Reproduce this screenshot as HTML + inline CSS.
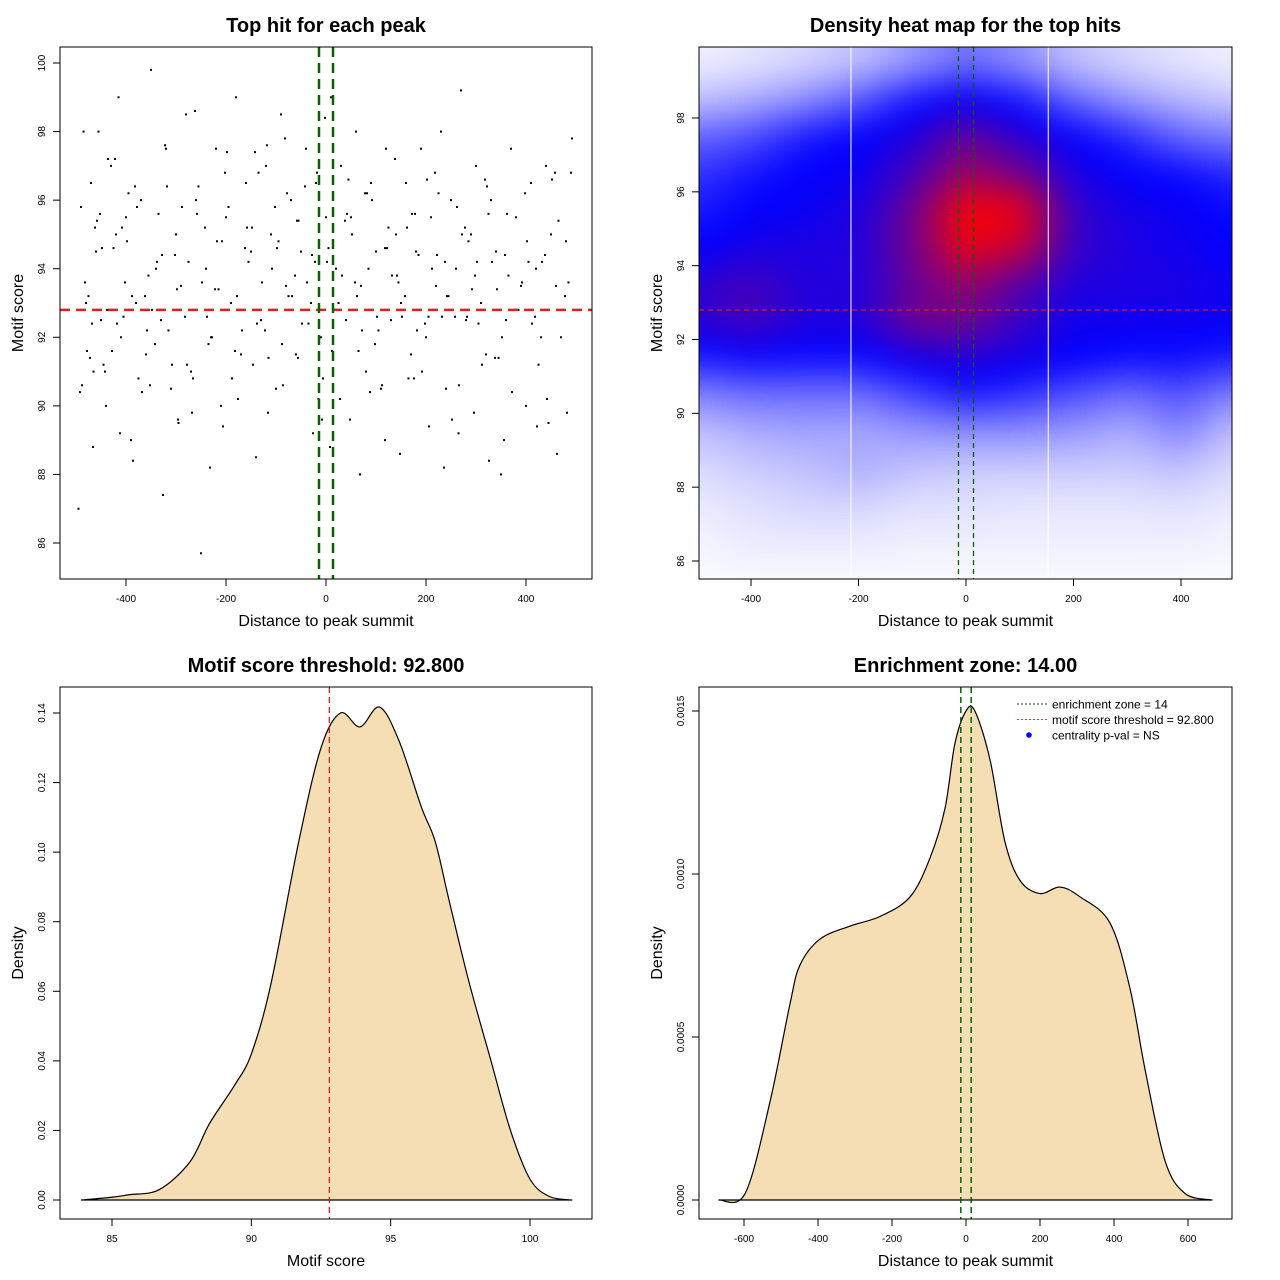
<!DOCTYPE html>
<html><head><meta charset="utf-8"><style>
body{margin:0;background:#fff;}
#wrap{position:relative;width:1280px;height:1280px;overflow:hidden;font-family:"Liberation Sans",sans-serif;}
#heat{position:absolute;left:699px;top:47px;}
#svg{position:absolute;left:0;top:0;}
</style></head><body>
<div id="wrap">
<canvas id="heat" width="533" height="532"></canvas>
<svg id="svg" width="1280" height="1280" xmlns="http://www.w3.org/2000/svg"></svg>
</div>
<script>
// ---- data ----
const scatterX = [-490,-485,-480,-470,-465,-460,-455,-450,-440,-430,-420,-415,-410,-400,-390,-380,-370,-360,-350,-340,-330,-320,-310,-300,-290,-280,-270,-260,-250,-240,-230,-220,-210,-200,-190,-180,-170,-160,-150,-140,-130,-120,-110,-100,-90,-80,-70,-60,-50,-40,-30,-20,-10,0,10,20,30,40,50,60,70,80,90,100,110,120,130,140,150,160,170,180,190,200,210,220,230,240,250,260,270,280,290,300,310,320,330,340,350,360,370,380,390,400,410,420,430,440,450,460,470,480,490,
 -495,-475,-462,-445,-425,-405,-395,-375,-355,-335,-315,-295,-275,-255,-235,-215,-195,-175,-155,-135,-115,-95,-75,-55,-35,-15,5,25,45,65,85,105,125,145,165,185,205,225,245,265,285,305,325,345,365,385,405,425,445,465,485,
 -488,-468,-448,-428,-408,-388,-368,-348,-328,-308,-288,-268,-248,-228,-208,-188,-168,-148,-128,-108,-88,-68,-48,-28,-8,12,32,52,72,92,112,132,152,172,192,212,232,252,272,292,312,332,352,372,392,412,432,452,472,492,
 -482,-472,-452,-436,-418,-398,-382,-362,-342,-322,-302,-282,-262,-242,-222,-202,-182,-162,-142,-122,-102,-82,-62,-42,-22,-2,18,38,58,78,98,118,138,158,178,198,218,238,258,278,298,318,338,358,378,398,418,438,458,478,
 -478,-458,-438,-422,-402,-378,-358,-338,-318,-298,-278,-258,-238,-218,-198,-178,-158,-138,-118,-98,-78,-58,-38,-18,2,22,42,62,82,102,122,142,162,182,202,222,242,262,282,302,322,342,362,382,402,422,442,462,482,
 -492,-466,-442,-412,-386,-352,-326,-296,-266,-232,-206,-176,-146,-116,-86,-56,-26,-6,8,28,48,68,88,118,148,176,206,236,266,296,326,356,386,416,446,476];
const scatterY = [95.8,98.0,93.0,96.5,91.0,94.5,98.0,92.5,90.0,97.0,95.0,99.0,92.0,95.5,89.0,93.0,96.0,91.5,99.8,94.0,92.5,97.5,90.5,95.0,93.5,98.5,91.0,96.0,85.7,94.0,92.0,97.5,90.0,95.5,93.0,99.0,91.5,96.5,94.5,88.5,92.5,97.0,95.0,90.5,98.5,93.5,96.0,91.5,94.5,97.5,93.0,96.5,92.0,95.5,99.0,94.0,97.0,92.5,95.5,98.0,93.5,91.0,96.5,94.5,90.5,97.5,92.5,95.0,93.0,96.5,91.5,94.5,97.5,92.0,95.5,93.5,98.0,90.5,96.0,94.0,99.2,92.5,95.0,97.0,93.0,91.5,96.0,94.5,88.0,92.5,97.5,95.5,93.5,90.0,96.5,94.0,92.0,97.0,95.0,
 93.5,92.0,94.8,96.8,87.0,93.2,95.2,91.2,94.6,92.6,96.2,90.8,93.8,95.6,92.2,89.5,94.2,96.4,91.8,93.4,95.8,92.8,94.2,96.8,91.4,94.8,93.2,95.4,92.4,90.2,94.6,93.0,96.6,91.6,94.0,92.2,95.2,93.6,90.8,94.4,92.6,96.2,93.2,89.2,94.8,92.4,95.6,91.4,93.8,92.8,94.2,
 91.2,89.5,95.4,93.6,90.6,92.4,94.6,91.6,95.2,93.2,90.4,92.8,94.4,91.2,95.8,89.8,93.6,92.0,94.8,90.8,92.2,95.2,93.6,94.0,91.8,93.2,92.4,94.4,89.6,91.6,93.8,95.0,92.2,96.0,90.6,93.8,92.6,95.6,91.0,94.0,92.6,89.6,95.0,93.4,91.2,94.2,92.0,90.4,93.6,92.4,
 94.2,96.6,92.8,97.8,93.6,91.4,95.6,97.2,92.4,94.8,96.4,93.2,91.8,97.6,94.4,92.6,98.6,95.2,93.4,96.8,91.6,94.6,97.4,92.2,95.8,97.8,93.8,96.4,94.2,98.4,92.8,95.4,93.6,96.2,91.8,94.6,97.2,93.2,95.6,92.4,96.8,94.2,92.6,95.2,93.8,96.6,91.4,94.4,92.8,96.2,
 92.6,94.4,96.8,93.2,91.6,95.4,92.8,97.2,93.6,95.8,92.2,94.2,96.4,93.4,91.2,95.6,92.6,94.8,97.4,93.2,95.2,92.4,97.6,94.6,96.2,95.4,93.6,96.8,94.2,92.8,95.6,93.2,96.2,92.6,94.6,93.8,95.2,92.2,96.6,94.4,93.2,95.8,92.6,94.2,96.4,93.4,95.6,92.8,94.8,
 89.4,90.2,88.6,89.8,90.4,88.8,91.0,89.2,88.4,90.6,87.4,89.6,90.8,88.2,89.4,90.2,91.2,89.8,90.6,91.4,89.2,90.8,88.8,90.2,89.6,88.0,90.4,89.0,88.6,90.8,89.4,88.2,90.6,89.8,88.4,89.0];
const heatXs = [-500,-400,-300,-200,-100,0,100,200,300,400,500];
const heatYs = [99.5,98.5,97.5,96.5,95.5,94.5,93.5,92.5,91.5,90.5,89.5,88.5,87.5,86.5,85.5];
const heatRows = [
[0.03,0.05,0.08,0.12,0.2,0.28,0.22,0.12,0.08,0.05,0.03],
[0.12,0.16,0.22,0.32,0.45,0.52,0.45,0.3,0.2,0.14,0.1],
[0.3,0.35,0.45,0.5,0.56,0.68,0.58,0.5,0.42,0.3,0.25],
[0.4,0.46,0.5,0.52,0.62,0.78,0.7,0.55,0.5,0.48,0.42],
[0.45,0.5,0.52,0.55,0.7,0.95,0.92,0.6,0.54,0.52,0.48],
[0.5,0.54,0.55,0.56,0.7,0.92,0.85,0.6,0.55,0.53,0.5],
[0.58,0.62,0.56,0.56,0.68,0.76,0.65,0.56,0.55,0.55,0.52],
[0.58,0.63,0.56,0.56,0.7,0.7,0.6,0.53,0.53,0.53,0.52],
[0.44,0.48,0.47,0.47,0.54,0.57,0.54,0.5,0.47,0.47,0.44],
[0.24,0.28,0.28,0.28,0.36,0.44,0.4,0.34,0.28,0.34,0.24],
[0.12,0.16,0.18,0.17,0.2,0.22,0.22,0.2,0.16,0.24,0.12],
[0.07,0.1,0.12,0.16,0.12,0.1,0.1,0.1,0.1,0.12,0.07],
[0.04,0.06,0.08,0.08,0.06,0.06,0.05,0.05,0.05,0.06,0.04],
[0.02,0.04,0.04,0.04,0.03,0.03,0.03,0.03,0.03,0.03,0.02],
[0.01,0.01,0.01,0.01,0.01,0.01,0.01,0.01,0.01,0.01,0.01]];
const scoreGrid = [83.9,85,85.6,86.7,87.8,88.5,89.4,90,90.7,91.7,92.5,93.2,93.9,94.6,95.3,96.1,96.6,97.1,97.8,98.6,99.3,100,100.7,101.5];
const scoreDens = [0,0.0008,0.0015,0.003,0.011,0.022,0.033,0.042,0.062,0.103,0.13,0.14,0.136,0.1417,0.132,0.113,0.103,0.086,0.063,0.04,0.02,0.006,0.001,0];
const distGrid = [-668,-597,-530,-476,-449,-395,-314,-232,-151,-97,-57,-30,0,24,65,105,146,200,254,308,389,443,484,538,592,665];
const distDens = [0,0.00002,0.0003,0.0006,0.00072,0.0008,0.00084,0.00087,0.00093,0.00105,0.0012,0.0014,0.0015,0.0015,0.00135,0.0011,0.00098,0.00094,0.00096,0.00093,0.00085,0.00065,0.0004,0.00012,0.00002,0];
const threshold = 92.8;
const zone = 14;
const ticks1X = [-400,-200,0,200,400], ticks1Y = [86,88,90,92,94,96,98,100];
const ticks2Y = [86,88,90,92,94,96,98];
const ticks3X = [85,90,95,100], ticks3Y = [0,0.02,0.04,0.06,0.08,0.10,0.12,0.14];
const ticks3YLab = ["0.00","0.02","0.04","0.06","0.08","0.10","0.12","0.14"];
const ticks4X = [-600,-400,-200,0,200,400,600], ticks4Y = [0,0.0005,0.001,0.0015];
const ticks4YLab = ["0.0000","0.0005","0.0010","0.0015"];
const heatGaps = [-214,153];

// ---- helpers ----
const NS="http://www.w3.org/2000/svg";
const svg=document.getElementById('svg');
function mk(tag,parent){const e=document.createElementNS(NS,tag);parent.appendChild(e);return e;}
function lin(d0,d1,p0,p1){return v=>p0+(v-d0)*(p1-p0)/(d1-d0);}
function smoothPath(pts){
  let d='M'+pts[0][0]+','+pts[0][1];
  for(let i=0;i<pts.length-1;i++){
    const p0=pts[Math.max(0,i-1)],p1=pts[i],p2=pts[i+1],p3=pts[Math.min(pts.length-1,i+2)];
    const c1x=p1[0]+(p2[0]-p0[0])/6,c1y=p1[1]+(p2[1]-p0[1])/6;
    const c2x=p2[0]-(p3[0]-p1[0])/6,c2y=p2[1]-(p3[1]-p1[1])/6;
    d+=` C${c1x},${c1y} ${c2x},${c2y} ${p2[0]},${p2[1]}`;}
  return d+' Z';}

function panel(name,L,T,R,B,title,xlab,ylab,xs,ys,xt,yt,xtl,ytl){
  const g=mk('g',svg);
  
  
  const t=mk('text',g);t.textContent=title;
  
  
  t.setAttribute('x',(L+R)/2);t.setAttribute('y',T-15);t.setAttribute('text-anchor','middle');t.setAttribute('font-size','20');t.setAttribute('font-weight','bold');
  const xl=mk('text',g);xl.textContent=xlab;
  
  
  xl.setAttribute('x',(L+R)/2);xl.setAttribute('y',B+47);xl.setAttribute('text-anchor','middle');xl.setAttribute('font-size','16');
  const yl=mk('text',g);yl.textContent=ylab;
  
  
  yl.setAttribute('transform',`translate(${L-37},${(T+B)/2}) rotate(-90)`);yl.setAttribute('text-anchor','middle');yl.setAttribute('font-size','16');
  xt.forEach((v,i)=>{const x=xs(v);
    const l=mk('line',g);
    
    
    l.setAttribute('x1',x);l.setAttribute('x2',x);l.setAttribute('y1',B);l.setAttribute('y2',B+7);l.setAttribute('stroke','#000');
    const tx=mk('text',g);tx.textContent=xtl?xtl[i]:String(v);
    
    
    tx.setAttribute('x',x);tx.setAttribute('y',B+23);tx.setAttribute('text-anchor','middle');tx.setAttribute('font-size','10');});
  yt.forEach((v,i)=>{const y=ys(v);
    const l=mk('line',g);
    
    
    l.setAttribute('x1',L-7);l.setAttribute('x2',L);l.setAttribute('y1',y);l.setAttribute('y2',y);l.setAttribute('stroke','#000');
    const tx=mk('text',g);tx.textContent=ytl?ytl[i]:String(v);
    
    
    tx.setAttribute('transform',`translate(${L-15},${y}) rotate(-90)`);tx.setAttribute('text-anchor','middle');tx.setAttribute('font-size','10');});
  return g;
}
function box(g,L,T,R,B){const r=mk('rect',g);
  
  
  r.setAttribute('x',L);r.setAttribute('y',T);r.setAttribute('width',R-L);r.setAttribute('height',B-T);r.setAttribute('fill','none');r.setAttribute('stroke','#000');}
function vline(g,x,T,B,col,w,dash,name){const l=mk('line',g);
  
  
  l.setAttribute('x1',x);l.setAttribute('x2',x);l.setAttribute('y1',T);l.setAttribute('y2',B);l.setAttribute('stroke',col);l.setAttribute('stroke-width',w);l.setAttribute('stroke-dasharray',dash);}
function hline(g,y,L,R,col,w,dash,name){const l=mk('line',g);
  
  
  l.setAttribute('x1',L);l.setAttribute('x2',R);l.setAttribute('y1',y);l.setAttribute('y2',y);l.setAttribute('stroke',col);l.setAttribute('stroke-width',w);l.setAttribute('stroke-dasharray',dash);}

// ---- panel 1: scatter ----
{const L=60,T=47,R=592,B=579;
 const xs=lin(0,400,326,526), ys=lin(86,100,543,63);
 const g=panel('scatter-panel',L,T,R,B,'Top hit for each peak','Distance to peak summit','Motif score',xs,ys,ticks1X,ticks1Y);
 const n=Math.min(scatterX.length,scatterY.length);
 for(let i=0;i<n;i++){const c=mk('rect',g);
   
   
   c.setAttribute('x',xs(scatterX[i])-1);c.setAttribute('y',ys(scatterY[i])-1);c.setAttribute('width',2);c.setAttribute('height',2);c.setAttribute('fill','#000');}
 hline(g,ys(threshold),L,R,'#e02020',2.5,'10 6','threshold-line');
 vline(g,xs(-zone),T,B,'#006400',2.5,'10 6','zone-left-line');
 vline(g,xs(zone),T,B,'#006400',2.5,'10 6','zone-right-line');
 box(g,L,T,R,B);}

// ---- panel 2: heatmap ----
{const L=699,T=47,R=1232,B=579;
 const xs=lin(0,400,966,1181), ys=lin(86,98,561,118);
 const g=panel('heatmap-panel',L,T,R,B,'Density heat map for the top hits','Distance to peak summit','Motif score',xs,ys,ticks1X,ticks2Y);
 const cv=document.getElementById('heat'),ctx=cv.getContext('2d');
 const P=40,W=R-L+2*P,H=B-T+2*P;
 const off=document.createElement('canvas');off.width=W;off.height=H;
 const octx=off.getContext('2d');const img=octx.createImageData(W,H);
 const xinv=lin(966,1181,0,400), yinv=lin(561,118,86,98);
 function interp(arr,v){
   const asc=arr[1]>arr[0];
   for(let i=0;i<arr.length-1;i++){const a=arr[i],b=arr[i+1];
     if((asc&&v>=a&&v<=b)||(!asc&&v<=a&&v>=b))return i+(v-a)/(b-a);}
   return (asc?v<arr[0]:v>arr[0])?0:arr.length-1;}
 for(let py=0;py<H;py++){const yv=yinv(T-P+py+0.5);const fy=interp(heatYs,yv);const iy=Math.min(Math.floor(fy),heatYs.length-2),ty=Math.min(1,fy-iy);
  for(let px=0;px<W;px++){const xv=xinv(L-P+px+0.5);const fx=interp(heatXs,xv);const ix=Math.min(Math.floor(fx),heatXs.length-2),tx=Math.min(1,fx-ix);
   const v=(heatRows[iy][ix]*(1-tx)+heatRows[iy][ix+1]*tx)*(1-ty)+(heatRows[iy+1][ix]*(1-tx)+heatRows[iy+1][ix+1]*tx)*ty;
   let r,gg,b;
   if(v<0.5){const k=v/0.5;r=255*(1-k);gg=255*(1-k);b=255;}
   else{const k=Math.min(1,(v-0.5)/0.45);r=255*k;gg=0;b=255*(1-k);}
   const o=(py*W+px)*4;img.data[o]=r;img.data[o+1]=gg;img.data[o+2]=b;img.data[o+3]=255;}}
 octx.putImageData(img,0,0);
 ctx.filter='blur(14px)';
 ctx.drawImage(off,-P,-P);
 ctx.filter='none';
 heatGaps.forEach(v=>vline(g,xs(v),T,B,'#fff',1,'none','heatmap-gap'));
 hline(g,ys(threshold),L,R,'#d02020',1.3,'5 4','threshold-line');
 vline(g,xs(-zone),T,B,'#006400',1.3,'5 4','zone-left-line');
 vline(g,xs(zone),T,B,'#006400',1.3,'5 4','zone-right-line');
 box(g,L,T,R,B);}

// ---- panel 3: score density ----
{const L=60,T=687,R=592,B=1219;
 const xs=lin(85,100,112,530), ys=lin(0,0.14,1200,713);
 const g=panel('score-density-panel',L,T,R,B,'Motif score threshold: 92.800','Motif score','Density',xs,ys,ticks3X,ticks3Y,null,ticks3YLab);
 const p=mk('path',g);
 
 
 p.setAttribute('d',smoothPath(scoreGrid.map((x,i)=>[xs(x),ys(scoreDens[i])])));
 p.setAttribute('fill','#F5DEB3');p.setAttribute('stroke','#000');p.setAttribute('stroke-width','1.2');p.setAttribute('stroke-linejoin','round');
 vline(g,xs(threshold),T,B,'#e02020',1.3,'6 4','threshold-line');
 box(g,L,T,R,B);}

// ---- panel 4: distance density ----
{const L=699,T=687,R=1232,B=1219;
 const xs=lin(0,600,966,1188), ys=lin(0,0.0015,1200,711);
 const g=panel('distance-density-panel',L,T,R,B,'Enrichment zone: 14.00','Distance to peak summit','Density',xs,ys,ticks4X,ticks4Y,null,ticks4YLab);
 const p=mk('path',g);
 
 
 p.setAttribute('d',smoothPath(distGrid.map((x,i)=>[xs(x),ys(distDens[i])])));
 p.setAttribute('fill','#F5DEB3');p.setAttribute('stroke','#000');p.setAttribute('stroke-width','1.2');p.setAttribute('stroke-linejoin','round');
 vline(g,xs(-zone),T,B,'#006400',1.5,'6 4','zone-left-line');
 vline(g,xs(zone),T,B,'#006400',1.5,'6 4','zone-right-line');
 const lg=mk('g',g);
 
 
 const items=[['enrichment zone = 14','#006400','line'],['motif score threshold = 92.800','#ff3030','line'],['centrality p-val = NS','#0000ff','dot']];
 items.forEach((it,i)=>{const y=704+i*15.5;
   if(it[2]==='line'){hline(lg,y,1017,1047,it[1],1,'2 2','legend-line');}
   else{const c=mk('circle',lg);
     
     
     c.setAttribute('cx',1029);c.setAttribute('cy',y);c.setAttribute('r',2.8);c.setAttribute('fill',it[1]);}
   const t=mk('text',lg);t.textContent=it[0];
   
   
   t.setAttribute('x',1052);t.setAttribute('y',y+4.5);t.setAttribute('font-size','12');});
 box(g,L,T,R,B);}
</script>
</body></html>
